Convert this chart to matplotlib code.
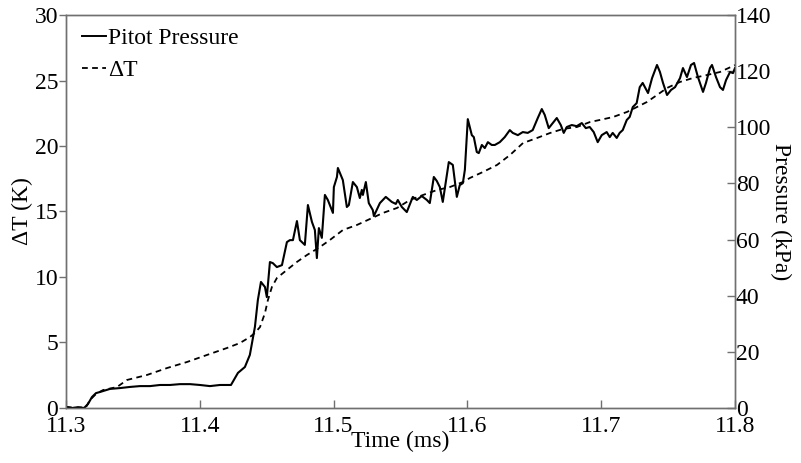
import matplotlib
matplotlib.use("Agg")
import matplotlib.pyplot as plt
from matplotlib.lines import Line2D

plt.rcParams['font.family'] = ['Liberation Serif', 'DejaVu Serif']
plt.rcParams['font.size'] = 17

# Pitot pressure trace (kPa) against time (ms)
t_pitot = [11.300, 11.3045, 11.309, 11.3135, 11.3164, 11.3194, 11.3224, 11.3254,
           11.3329, 11.3404, 11.3478, 11.3553, 11.3628, 11.3703, 11.3777, 11.3852,
           11.3927, 11.4001, 11.4076, 11.4151, 11.4233, 11.4285, 11.4337, 11.4374,
           11.4412, 11.4434, 11.4457, 11.4487, 11.4501, 11.4524, 11.4546, 11.4576,
           11.4614, 11.4651, 11.4673, 11.4696, 11.4726, 11.4748, 11.4785, 11.4808,
           11.4838, 11.4860, 11.4875, 11.4890, 11.4912, 11.4935, 11.4957, 11.4995,
           11.5002, 11.5025, 11.5032, 11.5069, 11.5099, 11.5114, 11.5144, 11.5174,
           11.5196, 11.5211, 11.5219, 11.5241, 11.5263, 11.5293, 11.5301, 11.5346,
           11.5390, 11.5435, 11.5465, 11.5480, 11.5510, 11.5547, 11.5592, 11.5622,
           11.5659, 11.5697, 11.5719, 11.5749, 11.5771, 11.5794, 11.5816, 11.5861,
           11.5891, 11.5921, 11.5943, 11.5966, 11.5981, 11.6003, 11.6033, 11.6048,
           11.6070, 11.6085, 11.6108, 11.6130, 11.6153, 11.6182, 11.6205, 11.6242,
           11.6279, 11.6317, 11.6339, 11.6377, 11.6414, 11.6451, 11.6488, 11.6526,
           11.6556, 11.6578, 11.6608, 11.6638, 11.6668, 11.6698, 11.6720, 11.6743,
           11.6780, 11.6817, 11.6855, 11.6885, 11.6914, 11.6944, 11.6974, 11.7004,
           11.7041, 11.7064, 11.7086, 11.7116, 11.7138, 11.7161, 11.7191, 11.7213,
           11.7236, 11.7265, 11.7288, 11.7310, 11.7350, 11.7380, 11.7417, 11.7439,
           11.7462, 11.7492, 11.7522, 11.7552, 11.7589, 11.7611, 11.7641, 11.7671,
           11.7694, 11.7723, 11.7761, 11.7783, 11.7813, 11.7828, 11.7858, 11.7888,
           11.7910, 11.7933, 11.7963, 11.7985, 11.8000]
p_pitot = [0.4, 0.0, 0.3, 0.0, 1.4, 3.9, 5.3, 5.7,
           6.8, 7.1, 7.5, 7.8, 7.8, 8.2, 8.2, 8.5,
           8.5, 8.2, 7.8, 8.2, 8.2, 12.5, 14.6, 18.9,
           28.9, 38.5, 44.9, 43.1, 39.5, 52.0, 51.6, 50.2,
           50.9, 59.1, 59.8, 59.8, 66.6, 59.8, 58.1, 72.3,
           66.3, 63.4, 53.4, 64.1, 60.6, 75.9, 74.1, 69.5,
           78.7, 82.3, 85.5, 81.2, 71.6, 72.3, 80.5, 78.7,
           74.8, 77.7, 75.9, 80.5, 73.0, 70.5, 68.4, 73.0,
           75.2, 73.4, 72.7, 74.1, 71.6, 69.8, 75.2, 74.1,
           75.5, 74.1, 73.0, 82.3, 80.9, 78.7, 73.4, 87.6,
           86.6, 75.2, 79.4, 80.1, 84.8, 102.9, 97.2, 96.5,
           91.2, 90.8, 93.7, 92.6, 94.7, 93.7, 93.7, 94.7,
           96.5, 99.0, 98.0, 97.2, 98.3, 98.0, 99.0, 103.3,
           106.5, 104.4, 99.7, 101.5, 103.3, 100.8, 98.0, 100.1,
           100.8, 100.4, 101.5, 99.7, 100.1, 98.3, 94.7, 97.2,
           98.3, 96.5, 98.0, 96.2, 98.0, 99.0, 102.6, 103.7,
           107.2, 108.6, 114.3, 115.8, 112.2, 117.5, 122.2, 119.7,
           115.8, 111.5, 113.3, 114.3, 117.5, 121.1, 117.9, 122.2,
           122.9, 117.9, 112.6, 115.8, 121.1, 122.2, 117.9, 114.3,
           113.3, 116.8, 119.7, 119.3, 121.1]

# Temperature rise (K) against time (ms)
t_dT = [11.300, 11.3075, 11.315, 11.3179, 11.3224, 11.3277, 11.3381, 11.3456,
        11.3605, 11.3755, 11.3904, 11.4054, 11.4203, 11.4300, 11.4375, 11.4412,
        11.4450, 11.4487, 11.4509, 11.4539, 11.4576, 11.4651, 11.4726, 11.4801,
        11.4898, 11.4973, 11.5070, 11.5174, 11.5287, 11.5369, 11.5474, 11.5571,
        11.5668, 11.5773, 11.5870, 11.5966, 11.6019, 11.6117, 11.6221, 11.6318,
        11.6416, 11.6520, 11.6617, 11.6714, 11.6819, 11.6916, 11.6991, 11.7088,
        11.7193, 11.7268, 11.7342, 11.7417, 11.7492, 11.7589, 11.7686, 11.7791,
        11.7888, 11.8000]
dT = [0.08, 0.0, 0.08, 0.61, 1.07, 1.37, 1.60, 2.14,
      2.52, 3.05, 3.51, 4.05, 4.58, 4.96, 5.42, 5.73,
      6.18, 7.25, 8.24, 9.24, 9.92, 10.54, 11.15, 11.68,
      12.29, 12.83, 13.59, 13.97, 14.50, 14.89, 15.27, 15.88,
      16.26, 16.64, 16.87, 17.25, 17.56, 18.02, 18.55, 19.31,
      20.23, 20.61, 20.99, 21.30, 21.45, 21.83, 21.99, 22.21,
      22.60, 22.98, 23.36, 23.89, 24.43, 24.89, 25.19, 25.42,
      25.65, 26.18]

x_ticks = [11.3, 11.4, 11.5, 11.6, 11.7, 11.8]
dT_ticks = [0, 5, 10, 15, 20, 25, 30]
p_ticks = [0, 20, 40, 60, 80, 100, 120, 140]

frame_color = '#707070'
dash = (0, (3.2, 2.4))

fig = plt.figure(figsize=(8.01, 4.63), dpi=100)
ax1 = fig.add_axes([0.0824, 0.1188, 0.8352, 0.8488])
ax2 = ax1.twinx()

ax1.plot(t_dT, dT, color='black', linestyle=dash, linewidth=1.3)
ax2.plot(t_pitot, p_pitot, color='black', linestyle='-', linewidth=1.5)

ax1.set_xlim(11.3, 11.8)
ax1.set_ylim(0, 30)
ax2.set_ylim(0, 140)
ax1.set_xticks(x_ticks)
ax1.set_xticklabels([f'{v:g}' for v in x_ticks])
ax1.set_yticks(dT_ticks)
ax2.set_yticks(p_ticks)

for ax in (ax1, ax2):
    for s in ax.spines.values():
        s.set_color(frame_color)
        s.set_linewidth(1.0)

ax1.tick_params(axis='x', direction='in', length=6, width=1, color=frame_color,
                pad=6, labelsize=17, top=False)
ax1.tick_params(axis='y', direction='out', length=5, width=1, color=frame_color,
                pad=0.5, labelsize=17)
ax2.tick_params(axis='y', direction='in', length=6, width=1, color=frame_color,
                pad=0.5, labelsize=17)

ax1.set_xlabel('Time (ms)', fontsize=17, labelpad=-5)
ax1.set_ylabel('\u0394T (K)', fontsize=17, labelpad=1)
ax2.set_ylabel('Pressure (kPa)', fontsize=17, rotation=270, labelpad=14)

handles = [Line2D([], [], color='black', linestyle='-', linewidth=1.4),
           Line2D([], [], color='black', linestyle=dash, linewidth=1.3)]
ax1.legend(handles, ['Pitot Pressure', '\u0394T'], loc='upper left', frameon=False,
           bbox_to_anchor=(0.006, 1.0), handlelength=1.0, handletextpad=0.1,
           borderaxespad=0.12, labelspacing=0.45, fontsize=17)

fig.savefig('out.png', dpi=100)
